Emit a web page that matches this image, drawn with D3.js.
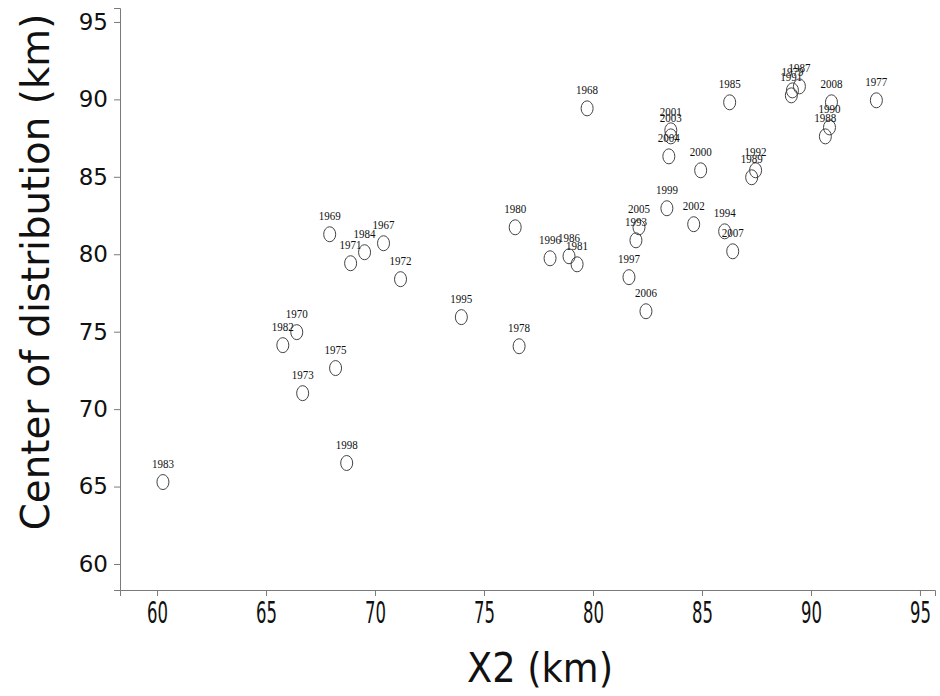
<!DOCTYPE html>
<html>
<head>
<meta charset="utf-8">
<script src="https://cdn.jsdelivr.net/npm/d3@7"></script>
<style>
  html, body { margin: 0; padding: 0; background: #fff; }
  svg { display: block; }
</style>
</head>
<body>
<svg id="chart" width="940" height="696"></svg>
<script>
// ---- data ----
const years = [1983, 1982, 1970, 1973, 1975, 1998, 1969, 1971, 1984, 1967,
               1972, 1995, 1978, 1980, 1996, 1986, 1981, 1968, 1997, 2006,
               1993, 2005, 1999, 2002, 1994, 2007, 2000, 2004, 2001, 2003,
               1989, 1992, 1985, 1987, 1979, 1991, 2008, 1990, 1988, 1977];
const x2Values = [60.27, 65.77, 66.41, 66.68, 68.19, 68.70, 67.92, 68.88, 69.52, 70.39,
                  71.17, 73.96, 76.61, 76.43, 78.03, 78.90, 79.27, 79.73, 81.65, 82.43,
                  81.97, 82.11, 83.39, 84.62, 86.04, 86.41, 84.94, 83.48, 83.57, 83.57,
                  87.28, 87.46, 86.27, 89.47, 89.15, 89.10, 90.94, 90.85, 90.66, 93.00];
const centerValues = [65.29, 74.13, 74.97, 71.03, 72.65, 66.52, 81.29, 79.42, 80.13, 80.71,
                      78.39, 75.94, 74.06, 81.74, 79.74, 79.87, 79.35, 89.42, 78.52, 76.32,
                      80.90, 81.74, 82.97, 81.94, 81.48, 80.19, 85.42, 86.32, 88.00, 87.61,
                      84.97, 85.42, 89.81, 90.84, 90.58, 90.26, 89.81, 88.19, 87.61, 89.94];
const xTicks = [60, 65, 70, 75, 80, 85, 90, 95];
const yTicks = [60, 65, 70, 75, 80, 85, 90, 95];
const xTitle = "X2 (km)";
const yTitle = "Center of distribution (km)";

const points = years.map((yr, i) => ({ year: yr, x: x2Values[i], y: centerValues[i] }));

// ---- layout ----
const plotLeft = 120, plotRight = 935, plotTop = 8, plotBottom = 590;
const svg = d3.select("#chart");

const x = d3.scaleLinear().domain([58.3, 95.69]).range([plotLeft, plotRight]);
const y = d3.scaleLinear().domain([58.32, 95.9]).range([plotBottom, plotTop]);

const axisColor = "#7a7a7a";

// x axis (tall, narrow tick labels as in the reference)
const gx = svg.append("g")
  .attr("transform", `translate(0,${plotBottom})`)
  .call(d3.axisBottom(x).tickValues(xTicks).tickSizeOuter(0).tickSize(6).tickPadding(6));
gx.select(".domain").attr("stroke", axisColor);
gx.selectAll(".tick line").attr("stroke", axisColor);
gx.selectAll(".tick text")
  .attr("font-family", "'DejaVu Sans', sans-serif")
  .attr("font-size", 16.5)
  .attr("fill", "#111")
  .attr("y", 18.3)
  .attr("dy", 0)
  .attr("transform", "scale(1,1.8)");

// y axis
const gy = svg.append("g")
  .attr("transform", `translate(${plotLeft},0)`)
  .call(d3.axisLeft(y).tickValues(yTicks).tickSizeOuter(0).tickSize(6).tickPadding(6));
gy.select(".domain").attr("stroke", axisColor);
gy.selectAll(".tick line").attr("stroke", axisColor);
gy.selectAll(".tick text")
  .attr("font-family", "'DejaVu Sans', sans-serif")
  .attr("font-size", 23)
  .attr("fill", "#111");

// axis titles
svg.append("text")
  .attr("x", 540).attr("y", 682)
  .attr("text-anchor", "middle")
  .attr("font-family", "'DejaVu Sans', sans-serif")
  .attr("font-size", 40)
  .attr("fill", "#111")
  .attr("textLength", 146)
  .attr("lengthAdjust", "spacingAndGlyphs")
  .text(xTitle);

svg.append("text")
  .attr("transform", "translate(49,272) rotate(-90)")
  .attr("text-anchor", "middle")
  .attr("font-family", "'DejaVu Sans', sans-serif")
  .attr("font-size", 38.8)
  .attr("fill", "#111")
  .text(yTitle);

// points
const g = svg.append("g");
g.selectAll("ellipse").data(points).join("ellipse")
  .attr("cx", d => x(d.x))
  .attr("cy", d => y(d.y))
  .attr("rx", 6)
  .attr("ry", 7.5)
  .attr("fill", "none")
  .attr("stroke", "#444")
  .attr("stroke-width", 1);

g.selectAll("text").data(points).join("text")
  .attr("x", d => x(d.x))
  .attr("y", d => y(d.y) - 14)
  .attr("text-anchor", "middle")
  .attr("font-family", "'Liberation Serif', serif")
  .attr("font-size", 12.5)
  .attr("fill", "#111")
  .attr("textLength", 22)
  .attr("lengthAdjust", "spacingAndGlyphs")
  .text(d => d.year);
</script>
</body>
</html>
